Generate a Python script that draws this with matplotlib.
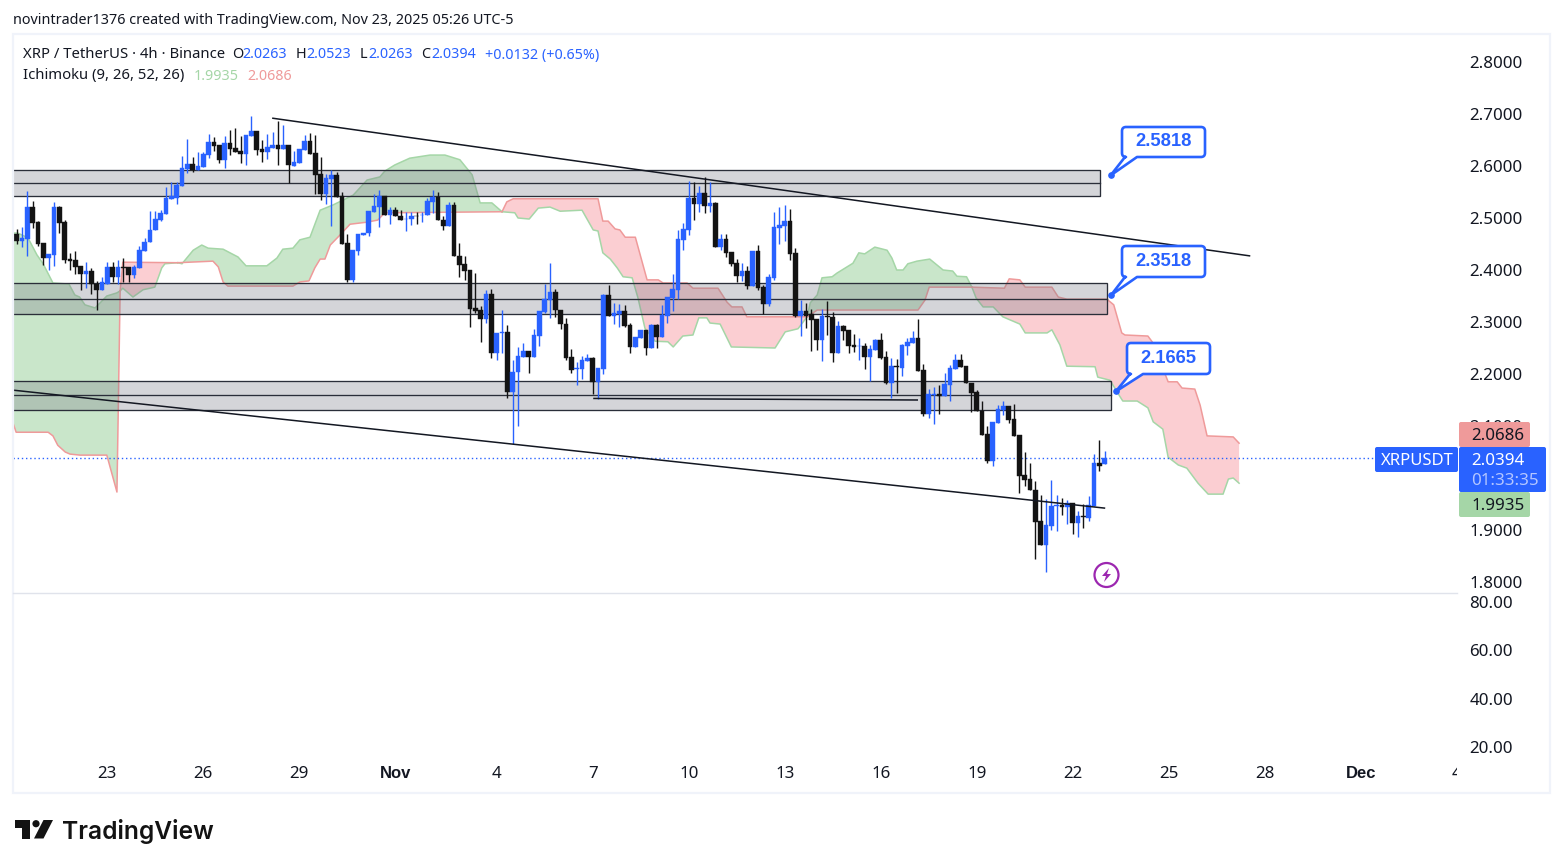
import matplotlib
matplotlib.use('Agg')
import matplotlib.pyplot as plt
import numpy as np
from matplotlib.patches import Rectangle, PathPatch, Circle, Polygon, FancyBboxPatch
from matplotlib.path import Path
from matplotlib.transforms import Bbox

plt.rcParams['font.family'] = ['Noto Sans', 'DejaVu Sans']

# 4h candles, Oct 20 - Nov 23
opens = [2.469,2.455,2.460,2.521,2.492,2.452,2.424,2.429,2.521,2.492,
         2.421,2.419,2.408,2.393,2.398,2.374,2.362,2.374,2.406,2.387,
         2.406,2.406,2.390,2.404,2.436,2.453,2.476,2.496,2.508,2.537,
         2.539,2.562,2.594,2.604,2.592,2.599,2.621,2.646,2.640,2.612,
         2.644,2.635,2.629,2.623,2.658,2.667,2.633,2.627,2.635,2.640,
         2.633,2.640,2.600,2.606,2.631,2.648,2.625,2.585,2.546,2.575,
         2.583,2.542,2.452,2.381,2.436,2.467,2.471,2.512,2.521,2.542,
         2.506,2.515,2.504,2.498,2.498,2.504,2.505,2.505,2.531,2.541,
         2.497,2.485,2.525,2.427,2.412,2.400,2.326,2.323,2.306,2.354,
         2.241,2.279,2.281,2.165,2.203,2.233,2.244,2.233,2.273,2.319,
         2.342,2.358,2.324,2.297,2.232,2.210,2.210,2.225,2.231,2.185,
         2.210,2.352,2.312,2.315,2.321,2.294,2.252,2.270,2.285,2.250,
         2.294,2.271,2.312,2.346,2.362,2.458,2.477,2.538,2.527,2.548,
         2.523,2.529,2.444,2.460,2.435,2.413,2.388,2.398,2.369,2.437,
         2.367,2.335,2.385,2.481,2.485,2.494,2.433,2.312,2.321,2.315,
         2.306,2.265,2.312,2.310,2.240,2.292,2.285,2.256,2.253,2.254,
         2.233,2.246,2.265,2.233,2.183,2.215,2.212,2.254,2.260,2.269,
         2.208,2.123,2.160,2.162,2.158,2.179,2.210,2.227,2.215,2.183,
         2.165,2.129,2.084,2.033,2.106,2.131,2.138,2.114,2.083,2.006,
         1.998,1.977,1.917,1.871,1.908,1.946,1.948,1.945,1.951,1.913,
         1.927,1.923,1.946,2.029,2.0263]
highs = [2.478,2.483,2.552,2.533,2.495,2.452,2.431,2.530,2.523,2.496,
         2.432,2.436,2.408,2.415,2.403,2.378,2.386,2.415,2.415,2.419,
         2.424,2.406,2.410,2.447,2.461,2.513,2.513,2.515,2.559,2.569,
         2.570,2.619,2.652,2.618,2.627,2.626,2.662,2.656,2.640,2.658,
         2.669,2.673,2.658,2.660,2.696,2.667,2.650,2.662,2.665,2.686,
         2.679,2.640,2.629,2.633,2.660,2.663,2.660,2.617,2.585,2.592,
         2.589,2.550,2.469,2.438,2.469,2.472,2.514,2.547,2.554,2.542,
         2.521,2.521,2.515,2.512,2.512,2.512,2.512,2.538,2.554,2.550,
         2.504,2.530,2.530,2.451,2.427,2.400,2.394,2.330,2.362,2.363,
         2.279,2.324,2.294,2.227,2.251,2.259,2.244,2.287,2.321,2.374,
         2.413,2.363,2.324,2.307,2.248,2.224,2.235,2.238,2.233,2.212,
         2.354,2.371,2.337,2.334,2.333,2.299,2.271,2.285,2.285,2.296,
         2.296,2.333,2.348,2.392,2.477,2.490,2.571,2.569,2.562,2.578,
         2.569,2.531,2.469,2.469,2.435,2.421,2.413,2.408,2.437,2.448,
         2.371,2.392,2.512,2.521,2.525,2.517,2.442,2.342,2.336,2.325,
         2.306,2.325,2.340,2.319,2.302,2.294,2.285,2.277,2.269,2.260,
         2.256,2.267,2.279,2.244,2.231,2.229,2.258,2.269,2.283,2.306,
         2.219,2.171,2.175,2.179,2.202,2.217,2.238,2.238,2.216,2.183,
         2.169,2.148,2.100,2.107,2.140,2.148,2.138,2.142,2.083,2.050,
         2.028,1.994,1.967,1.960,1.996,1.967,1.962,1.958,1.951,1.937,
         1.950,1.965,2.047,2.073,2.0523]
lows = [2.450,2.445,2.426,2.481,2.447,2.410,2.400,2.408,2.472,2.413,
        2.400,2.393,2.362,2.366,2.354,2.323,2.362,2.374,2.377,2.374,
        2.377,2.377,2.384,2.404,2.436,2.453,2.476,2.495,2.508,2.537,
        2.527,2.562,2.587,2.588,2.592,2.599,2.616,2.628,2.606,2.597,
        2.621,2.627,2.605,2.601,2.658,2.621,2.608,2.613,2.635,2.602,
        2.633,2.567,2.600,2.606,2.631,2.623,2.546,2.535,2.527,2.485,
        2.541,2.450,2.377,2.376,2.429,2.467,2.465,2.512,2.483,2.506,
        2.488,2.503,2.496,2.475,2.487,2.488,2.493,2.505,2.509,2.496,
        2.477,2.485,2.426,2.387,2.381,2.291,2.317,2.262,2.299,2.230,
        2.227,2.241,2.154,2.065,2.100,2.233,2.202,2.233,2.253,2.317,
        2.308,2.310,2.287,2.227,2.201,2.178,2.190,2.225,2.162,2.152,
        2.200,2.312,2.297,2.291,2.291,2.240,2.252,2.270,2.237,2.250,
        2.250,2.271,2.298,2.321,2.344,2.438,2.467,2.496,2.512,2.509,
        2.512,2.444,2.438,2.425,2.408,2.377,2.379,2.364,2.369,2.362,
        2.315,2.331,2.381,2.450,2.456,2.419,2.310,2.273,2.288,2.244,
        2.247,2.225,2.275,2.223,2.240,2.265,2.240,2.242,2.227,2.210,
        2.187,2.246,2.229,2.181,2.154,2.163,2.196,2.237,2.260,2.206,
        2.119,2.115,2.104,2.123,2.158,2.148,2.210,2.213,2.182,2.126,
        2.128,2.083,2.028,2.023,2.106,2.121,2.106,2.081,1.972,1.985,
        1.976,1.844,1.871,1.819,1.900,1.898,1.929,1.912,1.892,1.887,
        1.903,1.917,1.946,2.013,2.0263]
closes = [2.455,2.461,2.521,2.491,2.450,2.424,2.431,2.521,2.491,2.420,
          2.418,2.406,2.393,2.398,2.374,2.362,2.377,2.406,2.387,2.406,
          2.404,2.390,2.406,2.438,2.454,2.477,2.498,2.510,2.538,2.542,
          2.563,2.596,2.604,2.592,2.600,2.623,2.646,2.639,2.612,2.644,
          2.633,2.627,2.624,2.660,2.667,2.631,2.627,2.636,2.640,2.633,
          2.640,2.601,2.608,2.633,2.648,2.623,2.583,2.546,2.577,2.583,
          2.541,2.450,2.381,2.438,2.469,2.472,2.513,2.523,2.542,2.506,
          2.515,2.503,2.496,2.499,2.504,2.503,2.506,2.533,2.541,2.496,
          2.485,2.525,2.426,2.410,2.398,2.325,2.321,2.306,2.354,2.241,
          2.279,2.281,2.165,2.204,2.235,2.244,2.233,2.275,2.321,2.344,
          2.358,2.323,2.296,2.231,2.208,2.212,2.227,2.231,2.185,2.212,
          2.352,2.312,2.317,2.321,2.292,2.252,2.271,2.285,2.250,2.294,
          2.271,2.313,2.348,2.363,2.460,2.479,2.538,2.527,2.548,2.523,
          2.529,2.444,2.460,2.433,2.412,2.388,2.398,2.369,2.437,2.365,
          2.335,2.386,2.483,2.487,2.494,2.431,2.312,2.321,2.312,2.304,
          2.265,2.312,2.310,2.240,2.292,2.283,2.254,2.252,2.254,2.233,
          2.248,2.265,2.231,2.183,2.215,2.213,2.256,2.262,2.269,2.206,
          2.123,2.162,2.162,2.158,2.181,2.212,2.227,2.213,2.182,2.164,
          2.128,2.083,2.033,2.107,2.132,2.138,2.112,2.081,2.004,1.996,
          1.976,1.915,1.871,1.910,1.946,1.948,1.945,1.951,1.913,1.927,
          1.925,1.948,2.029,2.023,2.0394]

# ichimoku cloud, one pair of spans per stretch between crossings (x = bar number)
a1_x = [-0.7,0.2,2.1,3.8,4.9,6.8,9.8,10.9,11.8,12.8,14.7,16.9,18.8,19.4]
a1_p = [2.471,2.471,2.462,2.429,2.413,2.375,2.373,2.352,2.348,2.333,2.327,2.350,2.356,2.360]
b1_x = [-0.7,-0.1,5.9,6.8,7.7,9.1,10.0,11.9,16.9,18.8,19.4]
b1_p = [2.106,2.088,2.088,2.081,2.063,2.050,2.046,2.044,2.044,1.973,2.360]

a2_x = [19.4,19.9,21.8,23.7,25.9,27.2,27.8,30.2]
a2_p = [2.360,2.365,2.348,2.362,2.367,2.404,2.412,2.414]
b2_x = [19.4,19.9,30.2]
b2_p = [2.360,2.415,2.414]

a3_x = [30.2,31.0,33.1,34.7,35.9,38.7,40.0,41.5,43.0,46.9,48.8,49.9,51.8,53.1,55.0,56.9,59.3,63.1,65.7,68.1,69.0,70.9,73.7,77.5,80.3,83.1,85.4,86.9,89.1,91.0]
a3_p = [2.414,2.412,2.438,2.448,2.442,2.440,2.433,2.425,2.408,2.408,2.423,2.440,2.442,2.458,2.463,2.515,2.525,2.544,2.573,2.579,2.590,2.602,2.615,2.621,2.621,2.612,2.583,2.529,2.529,2.512]
b3_x = [30.2,36.8,37.8,38.7,39.6,51.8,53.1,54.8,55.9,56.9,57.8,58.8,60.6,62.5,65.7,67.7,69.0,91.0]
b3_p = [2.414,2.417,2.406,2.377,2.369,2.369,2.377,2.379,2.404,2.421,2.421,2.448,2.467,2.488,2.492,2.496,2.510,2.512]

a4_x = [91.0,93.4,94.0,96.1,97.8,100.0,101.9,106.0,108.1,109.0,109.9,111.3,112.6,113.7,115.4,116.5,117.8,119.7,122.1,123.1,124.9,126.8,127.9,129.4,130.0,131.9,134.0,142.2,144.1,146.5,148.2]
a4_p = [2.512,2.510,2.500,2.498,2.519,2.521,2.513,2.515,2.477,2.475,2.433,2.421,2.404,2.387,2.385,2.346,2.288,2.263,2.262,2.252,2.273,2.275,2.308,2.308,2.298,2.296,2.252,2.250,2.281,2.287,2.310]
b4_x = [91.0,91.9,93.1,109.0,109.9,110.9,112.2,113.1,114.1,116.0,118.2,120.3,121.2,125.7,126.8,131.5,133.2,134.1,136.0,136.9,148.2]
b4_p = [2.512,2.531,2.537,2.537,2.494,2.494,2.479,2.477,2.463,2.463,2.381,2.381,2.375,2.375,2.365,2.365,2.338,2.329,2.329,2.310,2.310]

a5_x = [148.2,148.8,150.1,151.0,152.9,153.8,156.8,157.9,159.0,160.9,163.2,164.1,165.0,166.2,167.1,168.8,171.2,173.7,175.5,176.3,178.1,179.1]
a5_p = [2.310,2.337,2.352,2.385,2.387,2.394,2.413,2.433,2.431,2.444,2.438,2.423,2.400,2.400,2.412,2.417,2.421,2.400,2.398,2.388,2.387,2.367]
b5_x = [148.2,150.1,169.0,170.3,171.1,179.1]
b5_p = [2.310,2.323,2.323,2.342,2.367,2.367]

a6_x = [179.1,179.9,181.2,183.1,184.9,188.1,189.1,193.2,194.1,195.6,196.9,202.2,202.7,205.0,206.9,207.4,210.1,212.1,213.1,214.9,215.9,217.8,219.4,221.5,223.4,226.2,227.2,228.1,229.2]
a6_p = [2.367,2.346,2.329,2.329,2.310,2.296,2.279,2.279,2.285,2.256,2.215,2.214,2.194,2.188,2.156,2.148,2.148,2.135,2.108,2.094,2.040,2.025,2.019,1.990,1.969,1.969,1.998,2.000,1.990]
b6_x = [179.1,185.2,186.1,188.1,189.1,194.1,195.3,196.9,204.4,205.7,207.2,207.8,212.1,212.9,215.9,217.6,218.5,220.9,221.9,223.2,228.1,229.2]
b6_p = [2.367,2.365,2.383,2.381,2.367,2.367,2.348,2.344,2.344,2.333,2.279,2.275,2.273,2.262,2.185,2.185,2.173,2.171,2.140,2.081,2.079,2.067]

cloud_segments = [(a1_x,a1_p,b1_x,b1_p), (a2_x,a2_p,b2_x,b2_p), (a3_x,a3_p,b3_x,b3_p),
                  (a4_x,a4_p,b4_x,b4_p), (a5_x,a5_p,b5_x,b5_p), (a6_x,a6_p,b6_x,b6_p)]

# drawn zones: top, middle, bottom price and last bar
zone_tops = [2.5923, 2.3744, 2.1860]
zone_mids = [2.5673, 2.3436, 2.1591]
zone_bottoms = [2.5423, 2.3148, 2.1302]
zone_ends = [203.1, 204.4, 205.2]

# trend lines as bar, price pairs
upper_x = [47.9, 231.3]
upper_p = [2.692, 2.427]
lower_x = [-0.7, 204.1]
lower_p = [2.169, 1.942]
flat_x = [108.1, 169.0]
flat_p = [2.153, 2.150]

callout_values = [2.5818, 2.3518, 2.1665]
callout_bars = [205.1, 205.2, 206.1]
last_price = 2.0394

price_ticks = [2.8, 2.7, 2.6, 2.5, 2.4, 2.3, 2.2, 2.1, 2.0, 1.9, 1.8]
lower_ticks = [80, 60, 40, 20]
date_bars = [17, 35, 53, 71, 90, 108, 126, 144, 162, 180, 198, 216, 234, 252, 270]
date_labels = ['23', '26', '29', 'Nov', '4', '7', '10', '13', '16', '19', '22', '25', '28', 'Dec', '4']

BLUE = '#2962ff'
BLACK = '#131313'
TEXT = '#131722'
W, H = 1563, 868

fig = plt.figure(figsize=(W / 100, H / 100), dpi=100, facecolor='white')
ax = fig.add_axes([13 / W, (H - 592) / H, 1444 / W, 558 / H])
sub = fig.add_axes([13 / W, (H - 752) / H, 1444 / W, 160 / H], sharex=ax)

# cloud
for n, (ax_, ap, bx, bp) in enumerate(cloud_segments):
    fill = '#4caf50' if n % 2 == 0 else '#f23645'
    ax.fill(list(ax_) + list(bx)[::-1], list(ap) + list(bp)[::-1], color=fill,
            alpha=0.3 if n % 2 == 0 else 0.24, lw=0, zorder=1)
    ax.plot(ax_, ap, color='#a5d6a7', lw=1.1, zorder=1.5)
    ax.plot(bx, bp, color='#ef9a9a', lw=1.1, zorder=1.5)

# zones
for top, mid, bot, end in zip(zone_tops, zone_mids, zone_bottoms, zone_ends):
    ax.add_patch(Rectangle((-1, bot), end + 1, top - bot, facecolor='#7c7f8a', alpha=0.32, lw=0, zorder=2))
    ax.add_patch(Rectangle((-1, bot), end + 1, top - bot, fill=False, edgecolor='#2a2e39', lw=0.95, zorder=2.5))
    ax.plot([-1, end], [mid, mid], color='#2a2e39', lw=0.95, zorder=2.5)

ax.axhline(last_price, color=BLUE, lw=1, ls=(0, (1, 2)), zorder=3)

# candles
bars = np.arange(len(opens))
o = np.array(opens)
c = np.array(closes)
colors = [BLUE if cl >= op else BLACK for op, cl in zip(opens, closes)]
ax.vlines(bars, lows, highs, colors=colors, lw=1, zorder=4)
ax.bar(bars, np.abs(c - o), bottom=np.minimum(o, c), width=0.9, color=colors,
       edgecolor=colors, linewidth=0.3, zorder=4.5)

for xs, ps in [(upper_x, upper_p), (lower_x, lower_p), (flat_x, flat_p)]:
    ax.plot(xs, ps, color='#131722', lw=1.1, zorder=5, solid_capstyle='butt')

ax.plot(callout_bars, callout_values, 'o', color=BLUE, ms=3.8, zorder=6, clip_on=False)

ax.set_xlim(-0.69, 270.06)
ax.set_ylim(1.7808, 2.8538)
ax.yaxis.tick_right()
ax.set_yticks(price_ticks)
ax.set_yticklabels(['%.4f' % p for p in price_ticks])
ax.tick_params(axis='y', length=0, pad=9, labelsize=12.2, labelcolor=TEXT)
ax.tick_params(axis='x', length=0, labelbottom=False)

sub.set_ylim(17.9, 84.1)
sub.yaxis.tick_right()
sub.set_yticks(lower_ticks)
sub.set_yticklabels(['%.2f' % v for v in lower_ticks])
sub.tick_params(axis='y', length=0, pad=9, labelsize=12.2, labelcolor=TEXT)
sub.set_xticks(date_bars)
sub.set_xticklabels(date_labels)
sub.tick_params(axis='x', length=0, pad=10, labelsize=12.2, labelcolor=TEXT)
for lab in sub.get_xticklabels():
    lab.set_clip_on(True)
    lab.set_clip_box(Bbox([[0, 0], [1457, H]]))
for lab, txt in zip(sub.get_xticklabels(), date_labels):
    if txt in ('Nov', 'Dec'):
        lab.set_family(['Liberation Sans', 'DejaVu Sans'])
        lab.set_fontweight('bold')
        lab.set_fontsize(12)

for a in (ax, sub):
    for s in a.spines.values():
        s.set_visible(False)

# page furniture in pixel coordinates
top = fig.add_axes([0, 0, 1, 1], zorder=10)
top.set_xlim(0, W)
top.set_ylim(H, 0)
top.axis('off')
top.patch.set_alpha(0)

top.add_patch(Rectangle((13, 34), 1537, 759, fill=False, edgecolor='#f0f3fa', lw=1.6))
top.plot([13, 1457], [592.5, 592.5], color='#e0e3eb', lw=1)


def label(x, y, s, color=TEXT, size=10.7, **kw):
    return top.text(x, y + 1, s, color=color, fontsize=size, va='center', **kw)


label(13, 20, 'novintrader1376 created with TradingView.com, Nov 23, 2025 05:26 UTC-5', size=10.35)
label(23, 54, 'XRP / TetherUS · 4h · Binance')
for x, s in [(232, 'O'), (296, 'H'), (360, 'L'), (421, 'C')]:
    label(x, 54, s, size=10.4)
for x, s in [(242, '2.0263'), (306, '2.0523'), (368, '2.0263'), (431, '2.0394'), (485, '+0.0132 (+0.65%)')]:
    label(x, 54, s, color=BLUE, size=10.3)
label(23, 75, 'Ichimoku (9, 26, 52, 26)')
label(194, 75, '1.9935', color='#a5d6a7', size=10.3)
label(247, 75, '2.0686', color='#ef9a9a', size=10.3)


def tag(x0, y0, x1, y1, face):
    top.add_patch(FancyBboxPatch((x0, y0), x1 - x0, y1 - y0, boxstyle='round,pad=0,rounding_size=2',
                                 facecolor=face, edgecolor='none', zorder=3))


tag(1459, 422, 1530, 447, '#ef9a9a')
tag(1459, 492, 1530, 517, '#a5d6a7')
tag(1459, 447, 1546, 492, BLUE)
tag(1375, 447, 1458, 472, BLUE)
label(1471, 434.5, '2.0686', size=12.2, zorder=4)
label(1471, 505, '1.9935', size=12.2, zorder=4)
label(1471, 460, '2.0394', color='white', size=12.2, zorder=4)
label(1471, 480, '01:33:35', color='#b4c6ff', size=12.2, zorder=4)
label(1381, 460, 'XRPUSDT', color='white', size=12, zorder=4)


def callout(x0, y0, x1, y1, base0, base1, value, bar):
    tx, ty = ax.transData.transform((bar, value))
    ty = H - ty
    r = 4
    verts = [(x0 + r, y0), (x1 - r, y0), (x1, y0), (x1, y0 + r), (x1, y1 - r), (x1, y1), (x1 - r, y1),
             (base1, y1), (tx, ty), (base0, y1), (x0 + r, y1), (x0, y1), (x0, y1 - r), (x0, y0 + r), (x0, y0),
             (x0 + r, y0), (x0 + r, y0)]
    codes = [Path.MOVETO, Path.LINETO, Path.CURVE3, Path.CURVE3, Path.LINETO, Path.CURVE3, Path.CURVE3,
             Path.LINETO, Path.LINETO, Path.LINETO, Path.LINETO, Path.CURVE3, Path.CURVE3, Path.LINETO,
             Path.CURVE3, Path.CURVE3, Path.CLOSEPOLY]
    top.add_patch(PathPatch(Path(verts, codes), facecolor='white', edgecolor=BLUE, lw=1.9, joinstyle='round'))
    top.text((x0 + x1) / 2, (y0 + y1) / 2, '%.4f' % value, color=BLUE, fontsize=13.2, fontweight='bold',
             family=['Liberation Sans', 'DejaVu Sans'], ha='center', va='center')


callout(1122, 127, 1205, 157, 1125, 1137, callout_values[0], callout_bars[0])
callout(1122, 246, 1205, 277, 1125, 1137, callout_values[1], callout_bars[1])
callout(1127, 343, 1210, 374, 1130, 1143, callout_values[2], callout_bars[2])

# lightning mark
top.add_patch(Circle((1106.5, 575), 12, fill=False, edgecolor='#9c27b0', lw=1.6))
top.add_patch(Polygon([(1109, 568), (1102, 576), (1106, 576), (1104, 582), (1111, 574), (1107, 574)],
                      closed=True, facecolor='#9c27b0', edgecolor='none'))

# logo
top.add_patch(Polygon([(15, 820), (30, 820), (30, 838.5), (22, 838.5), (22, 827.5), (15, 827.5)],
                      closed=True, facecolor=BLACK, edgecolor='none'))
top.add_patch(Circle((36, 823.7), 3.6, facecolor=BLACK, edgecolor='none'))
top.add_patch(Polygon([(43.5, 820), (53, 820), (43.5, 838.5), (34, 838.5)], closed=True,
                      facecolor=BLACK, edgecolor='none'))
top.text(62, 831, 'TradingView', color=BLACK, fontsize=17.7, fontweight='semibold',
         family=['Inter', 'DejaVu Sans'], va='center')

fig.savefig('out.png', dpi=100, facecolor='white')
